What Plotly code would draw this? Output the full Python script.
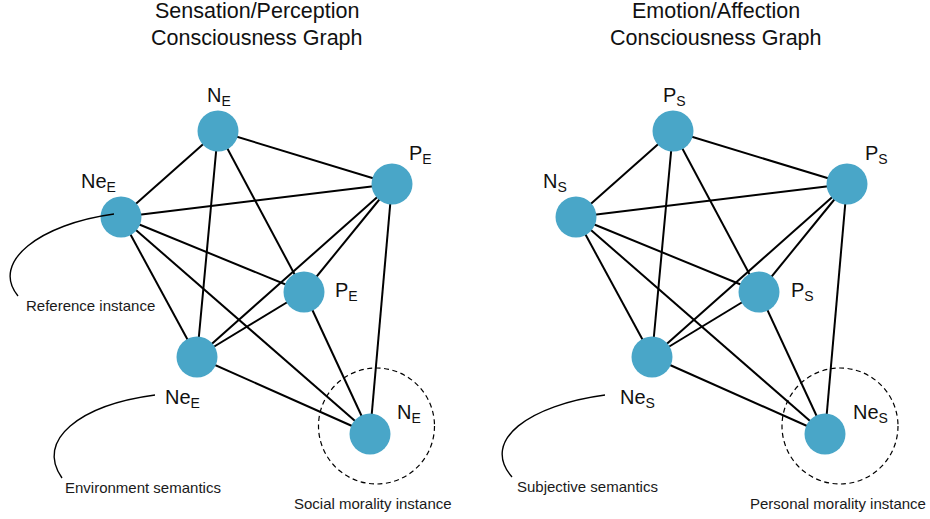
import plotly.graph_objects as go

# ---------------- data ----------------
# node layout of the left graph (pixel-like units, y grows downward)
node_x = [218, 392, 121, 304, 197, 370]
node_y = [131, 184, 217, 292, 357, 434]
# horizontal offset of the right graph
graph_offset = [0, 455]

# edges (index pairs) - every pair except top node <-> bottom-right node
edges = [(0, 1), (0, 2), (0, 3), (0, 4),
         (1, 2), (1, 3), (1, 4), (1, 5),
         (2, 3), (2, 4), (2, 5),
         (3, 4), (3, 5),
         (4, 5)]

titles = [["Sensation/Perception", "Consciousness Graph"],
          ["Emotion/Affection", "Consciousness Graph"]]
title_x = [257, 716]
title_y = [10.8, 38.1]

node_labels = [["N", "P", "Ne", "P", "Ne", "N"],
               ["P", "P", "N", "P", "Ne", "Ne"]]
label_sub = ["E", "S"]
label_left = [[206, 408, 80, 334, 164, 396],
              [662, 864, 542, 790, 619, 852]]
label_base = [100, 158, 186, 295, 402, 417]

notes = ["Reference instance", "Environment semantics", "Social morality instance",
         "Subjective semantics", "Personal morality instance"]
note_x = [90, 143, 373, 587, 837.5]
note_y = [305.3, 487, 503.3, 486.2, 503.8]

# dashed "instance" circles: centre and radius
circle_cx = [376.5, 840]
circle_cy = [426, 426]
circle_r = [58, 58]

# connector curves (cubic bezier: start, ctrl1, ctrl2, end)
curves = [[(114, 214), (40, 224), (-10, 262), (18, 296)],
          [(155, 395), (80, 405), (35, 440), (62, 478)],
          [(605, 395), (530, 405), (480, 440), (512, 477)]]

NODE_COLOR = "#49A6C8"
FONT = "Liberation Sans, Arial, sans-serif"

fig = go.Figure()

for g, off in enumerate(graph_offset):
    xs = [x + off for x in node_x]
    ex, ey = [], []
    for a, b in edges:
        ex += [xs[a], xs[b], None]
        ey += [node_y[a], node_y[b], None]
    fig.add_trace(go.Scatter(x=ex, y=ey, mode="lines",
                             line=dict(color="black", width=2),
                             hoverinfo="skip"))
    fig.add_trace(go.Scatter(x=xs, y=node_y, mode="markers",
                             marker=dict(size=41, color=NODE_COLOR,
                                         line=dict(width=0)),
                             hoverinfo="skip"))

annotations = []
for g in range(2):
    for i, line in enumerate(titles[g]):
        annotations.append(dict(x=title_x[g], y=title_y[i], text=line,
                                xanchor="center", yanchor="middle",
                                showarrow=False,
                                font=dict(family=FONT, size=21.5, color="#111")))
    for i, lab in enumerate(node_labels[g]):
        annotations.append(dict(x=label_left[g][i], y=label_base[i] - 4,
                                text=f"{lab}<sub>{label_sub[g]}</sub>",
                                xanchor="left", yanchor="middle",
                                showarrow=False, xshift=-1,
                                font=dict(family=FONT, size=20, color="#111")))
for t, x, y in zip(notes, note_x, note_y):
    annotations.append(dict(x=x, y=y, text=t, xanchor="center", yanchor="middle",
                            showarrow=False,
                            font=dict(family=FONT, size=15, color="#1a1a1a")))

shapes = []
for cx, cy, r in zip(circle_cx, circle_cy, circle_r):
    shapes.append(dict(type="circle", xref="x", yref="y",
                       x0=cx - r, x1=cx + r, y0=cy - r, y1=cy + r,
                       line=dict(color="black", width=1.2, dash="5px,3.5px"),
                       layer="below"))
for c in curves:
    (x0, y0), (x1, y1), (x2, y2), (x3, y3) = c
    shapes.append(dict(type="path", xref="x", yref="y",
                       path=f"M {x0},{y0} C {x1},{y1} {x2},{y2} {x3},{y3}",
                       line=dict(color="black", width=1.4), layer="above"))

fig.update_layout(width=930, height=519,
                  margin=dict(l=0, r=0, t=0, b=0),
                  paper_bgcolor="white", plot_bgcolor="white",
                  showlegend=False,
                  xaxis=dict(range=[0, 930], visible=False, fixedrange=True),
                  yaxis=dict(range=[519, 0], visible=False, fixedrange=True),
                  annotations=annotations, shapes=shapes)

fig.write_html("out.html",
               config={"displayModeBar": False},
               post_script="document.body.style.margin='0';"
                           "document.body.style.overflow='hidden';")
